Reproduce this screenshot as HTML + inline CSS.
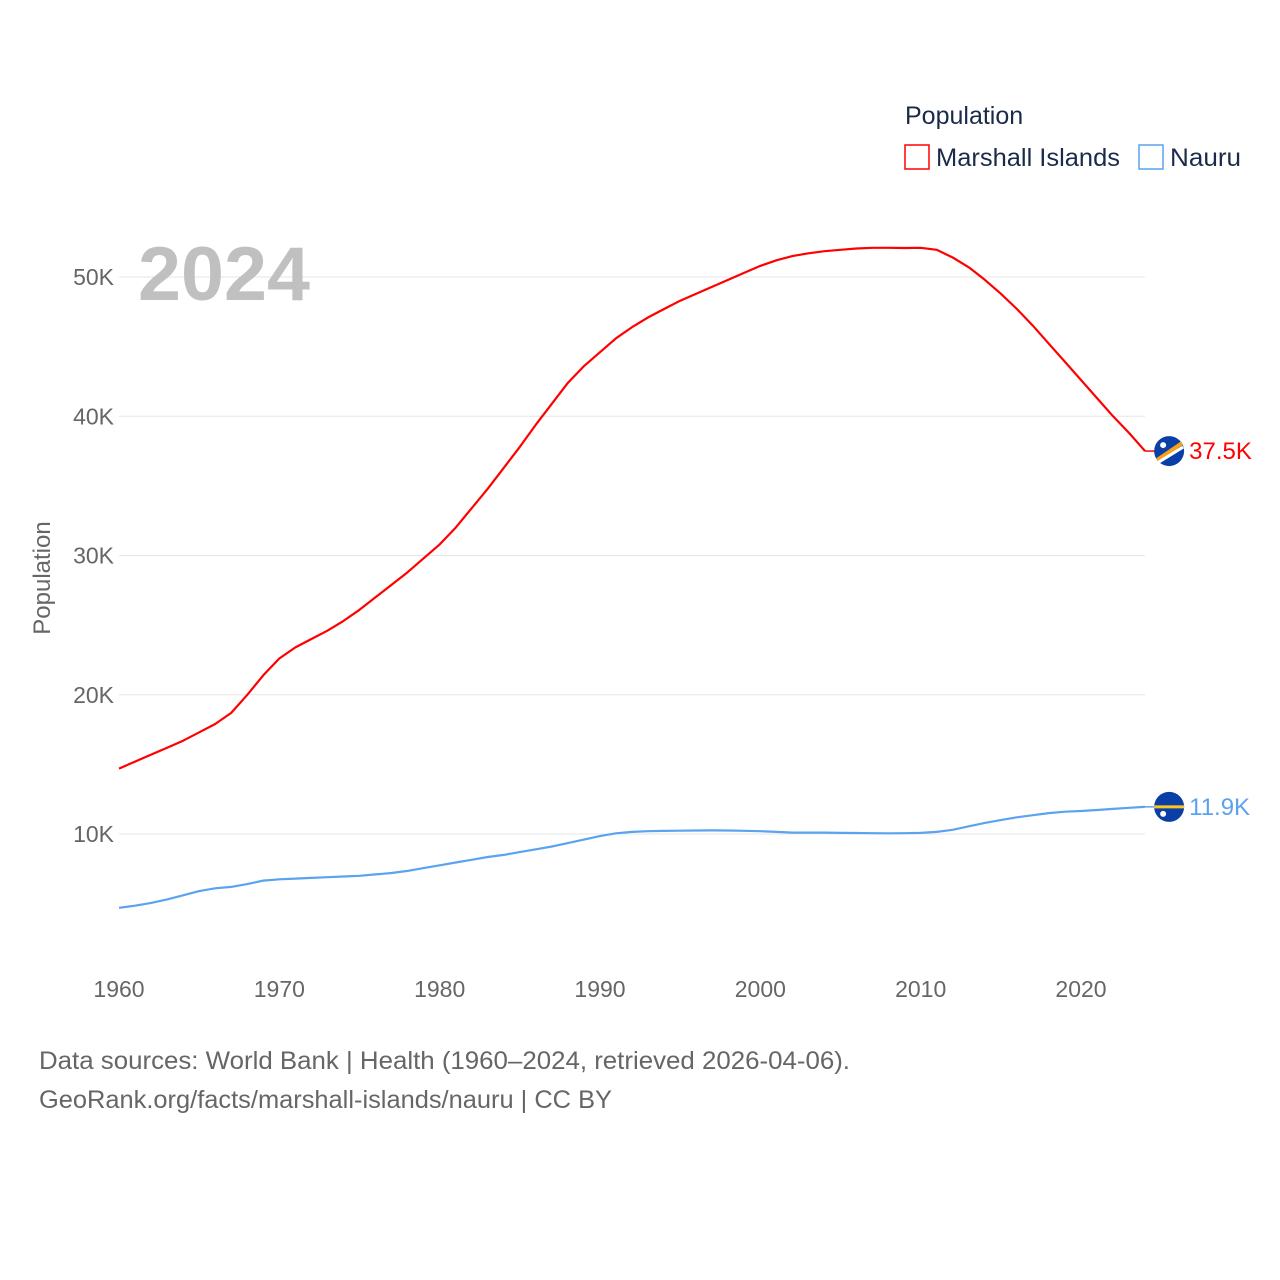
<!DOCTYPE html>
<html><head><meta charset="utf-8"><style>
html,body{margin:0;padding:0;background:#fff;}
svg{display:block;font-family:"Liberation Sans",sans-serif;}
</style></head><body>
<svg id="chart" width="1280" height="1280" viewBox="0 0 1280 1280" xmlns="http://www.w3.org/2000/svg">
<g id="grid"></g>
<g id="yticks"></g>
<g id="xticks"></g>
<text x="138" y="300" font-size="76" font-weight="bold" fill="#c0c0c0" textLength="172" lengthAdjust="spacingAndGlyphs">2024</text>
<text transform="translate(50,578) rotate(-90)" text-anchor="middle" font-size="24" fill="#666">Population</text>
<g id="series"></g>
<g>
<text x="905" y="124" font-size="25" fill="#1a2b4a">Population</text>
<g>
<rect x="905" y="145" width="24" height="24" fill="none" stroke="#ff0000" stroke-width="1.5"/>
<text x="936" y="166" font-size="25" fill="#1a2b4a" textLength="184" lengthAdjust="spacingAndGlyphs">Marshall Islands</text></g>
<g>
<rect x="1139" y="145" width="24" height="24" fill="none" stroke="#5ba3ee" stroke-width="1.5"/>
<text x="1170" y="166" font-size="25" fill="#1a2b4a" textLength="71" lengthAdjust="spacingAndGlyphs">Nauru</text></g>
</g>
<text x="39" y="1069" font-size="25" fill="#666" textLength="811" lengthAdjust="spacingAndGlyphs">Data sources: World Bank | Health (1960–2024, retrieved 2026-04-06).</text>
<text x="39" y="1108" font-size="25" fill="#666" textLength="573" lengthAdjust="spacingAndGlyphs">GeoRank.org/facts/marshall-islands/nauru | CC BY</text>
</svg>
<script>
const years = [];
for (let y = 1960; y <= 2024; y++) years.push(y);
const marshallValues = [14.7,15.2,15.7,16.2,16.7,17.3,17.9,18.7,20.0,21.4,22.6,23.4,24.0,24.6,25.3,26.1,27.0,27.9,28.8,29.8,30.8,32.0,33.4,34.8,36.3,37.8,39.4,40.9,42.4,43.6,44.6,45.6,46.4,47.1,47.7,48.3,48.8,49.3,49.8,50.3,50.8,51.2,51.5,51.7,51.85,51.95,52.05,52.1,52.1,52.08,52.1,51.95,51.4,50.7,49.8,48.8,47.7,46.5,45.2,43.9,42.6,41.3,40.0,38.8,37.5];
const nauruValues = [4.7,4.85,5.05,5.3,5.6,5.9,6.1,6.2,6.4,6.65,6.75,6.8,6.85,6.9,6.95,7.0,7.1,7.2,7.35,7.55,7.75,7.95,8.15,8.35,8.5,8.7,8.9,9.1,9.35,9.6,9.85,10.05,10.15,10.2,10.22,10.24,10.25,10.26,10.25,10.23,10.2,10.15,10.1,10.1,10.1,10.08,10.07,10.06,10.05,10.06,10.08,10.15,10.3,10.55,10.8,11.0,11.2,11.35,11.5,11.6,11.65,11.72,11.8,11.88,11.95];
const yTickValues = [10,20,30,40,50];
const yTickLabels = ["10K","20K","30K","40K","50K"];
const xTickValues = [1960,1970,1980,1990,2000,2010,2020];
const endLabels = ["37.5K","11.9K"];

const NS = "http://www.w3.org/2000/svg";
const xScale = yr => 119 + (yr - 1960) * (962 / 60);
const yScale = v => 973.25 - v * 13.925;
function mk(tag, attrs, parent){const e=document.createElementNS(NS,tag);for(const k in attrs)e.setAttribute(k,attrs[k]);parent.appendChild(e);return e;}

const grid=document.getElementById('grid'), yt=document.getElementById('yticks'), xt=document.getElementById('xticks'), ser=document.getElementById('series');
yTickValues.forEach((v,i)=>{
  const l=mk('line',{x1:119,x2:1145,y1:yScale(v),y2:yScale(v),stroke:'#e6e6e6','stroke-width':1},grid);
  
  
  const t=mk('text',{x:114,y:yScale(v)+8,'text-anchor':'end','font-size':23,fill:'#666'},yt);
  t.textContent=yTickLabels[i];
  
  
});
xTickValues.forEach(v=>{
  const t=mk('text',{x:xScale(v),y:997,'text-anchor':'middle','font-size':23,fill:'#666'},xt);
  t.textContent=v;
  
  
});
function drawSeries(vals,color,name,label,flag){
  const d=vals.map((v,i)=>(i?'L':'M')+xScale(years[i]).toFixed(1)+','+yScale(v).toFixed(1)).join(' ');
  const p=mk('path',{d:d,fill:'none',stroke:color,'stroke-width':2.2,'stroke-linejoin':'round'},ser);
  
  
  const last=vals[vals.length-1], ly=yScale(last), lx=xScale(years[years.length-1]);
  mk('line',{x1:lx,x2:lx+10,y1:ly,y2:ly,stroke:color,'stroke-width':1.5},ser);
  const g=mk('g',{},ser);
  
  
  const cx=lx+24;
  mk('circle',{cx:cx,cy:ly,r:15,fill:'#0b3fa8'},g);
  if(flag==='mh'){
    mk('line',{x1:cx-12,y1:ly+9,x2:cx+13,y2:ly-8,stroke:'#f7a21b','stroke-width':4},g);
    mk('line',{x1:cx-12,y1:ly+12,x2:cx+14,y2:ly-4,stroke:'#fff','stroke-width':3},g);
    mk('circle',{cx:cx-6,cy:ly-6,r:3,fill:'#fff'},g);
  } else {
    mk('rect',{x:cx-15,y:ly-1.5,width:30,height:3,fill:'#ffc61e'},g);
    mk('circle',{cx:cx-6,cy:ly+7,r:3,fill:'#fff'},g);
  }
  const t=mk('text',{x:cx+20,y:ly+8,'font-size':24,fill:color},ser);
  t.textContent=label;
  
  
}
drawSeries(marshallValues,'#ff0000','marshall-islands',endLabels[0],'mh');
drawSeries(nauruValues,'#5ba3ee','nauru',endLabels[1],'nr');
</script>
</body></html>
